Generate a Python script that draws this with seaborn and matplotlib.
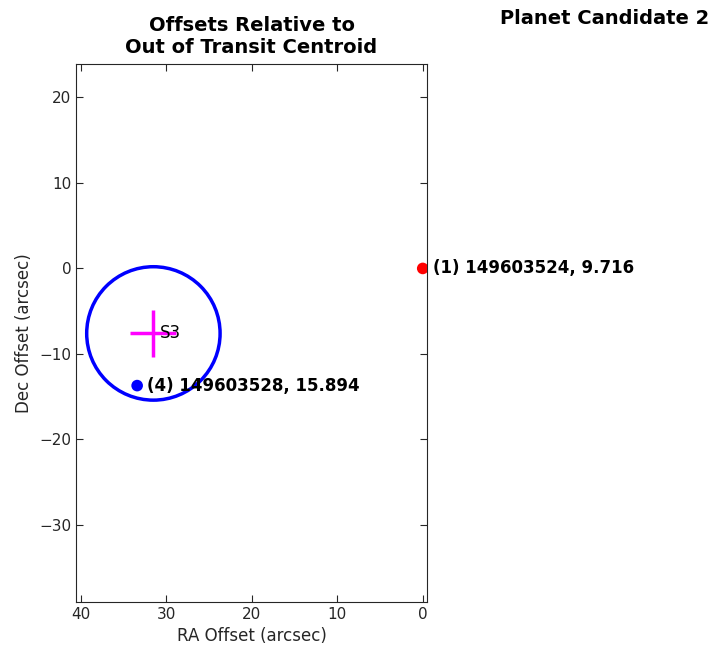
import pandas as pd
import matplotlib
matplotlib.use("Agg")
import matplotlib.pyplot as plt
import seaborn as sns
from matplotlib.patches import Circle

# Star positions (RA / Dec offsets in arcsec)
star_ids = ["(1) 149603524, 9.716", "(4) 149603528, 15.894"]
ra_offsets = [0.0, 33.4]
dec_offsets = [0.0, -13.7]
star_colors = ["red", "blue"]

# Centroid estimate S3
s3_label = "S3"
s3_ra = 31.5
s3_dec = -7.6
s3_ra_err = 2.7
s3_dec_err = 2.75
s3_radius = 7.8

sns.set_style("ticks")
plt.rcParams["font.family"] = ["DejaVu Sans"]

fig = plt.figure(figsize=(7.13, 6.6), dpi=100)
ax = fig.add_axes([0.1066, 0.0879, 0.4923, 0.8151])

stars = pd.DataFrame({"ra": ra_offsets, "dec": dec_offsets, "name": star_ids})
sns.scatterplot(data=stars, x="ra", y="dec", hue="name", palette=star_colors,
                s=70, edgecolor="none", legend=False, ax=ax, zorder=3)

for x, y, name in zip(ra_offsets, dec_offsets, star_ids):
    ax.text(x - 1.2, y, name, fontsize=12, fontweight="bold", color="black",
            ha="left", va="center", zorder=4, clip_on=False)

# Centroid circle and cross
ax.add_patch(Circle((s3_ra, s3_dec), s3_radius, fill=False,
                    edgecolor="blue", linewidth=2.5, zorder=2))
ax.errorbar([s3_ra], [s3_dec], xerr=[s3_ra_err], yerr=[s3_dec_err],
            fmt="none", ecolor="magenta", elinewidth=2.5, capsize=0, zorder=3)
ax.text(s3_ra - 0.8, s3_dec, s3_label, fontsize=12, color="black",
        ha="left", va="center", zorder=4)

ax.set_xlim(40.55, -0.5)
ax.set_ylim(-39.0, 23.9)
ax.set_xticks([40, 30, 20, 10, 0])
ax.set_yticks([20, 10, 0, -10, -20, -30])
ax.set_yticklabels(["20", "10", "0", "\u221210", "\u221220", "\u221230"])
ax.tick_params(direction="in", top=True, right=True, labelsize=11,
               length=5, width=0.8, colors="#262626")
for sp in ax.spines.values():
    sp.set_visible(True)
    sp.set_color("#262626")
    sp.set_linewidth(0.8)

ax.set_xlabel("RA Offset (arcsec)", fontsize=12, color="#262626")
ax.set_ylabel("Dec Offset (arcsec)", fontsize=12, color="#262626")
ax.set_title("Offsets Relative to\nOut of Transit Centroid",
             fontsize=14, fontweight="bold", color="black", pad=8)

fig.text(0.848, 0.972, "Planet Candidate 2", fontsize=14, fontweight="bold",
         color="black", ha="center", va="center")

fig.savefig("out.png", dpi=100)
